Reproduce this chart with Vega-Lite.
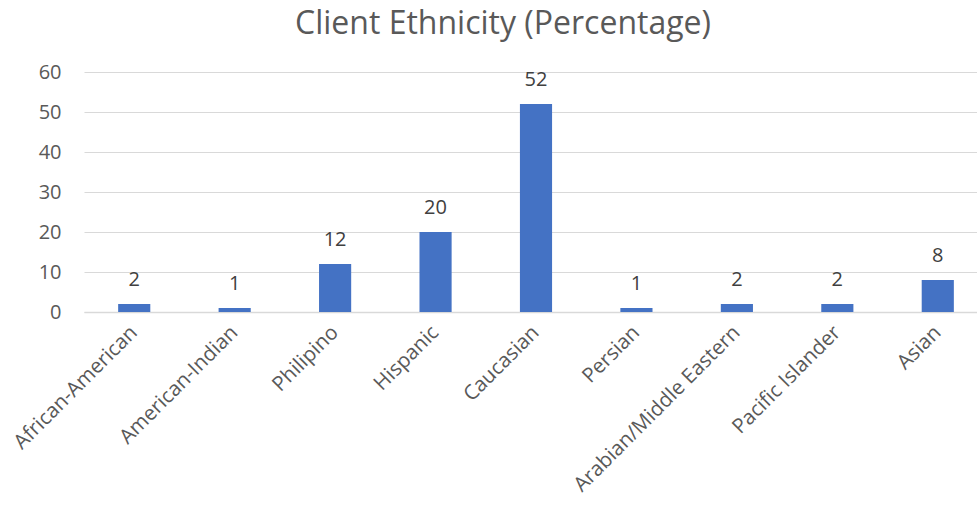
{
  "$schema": "https://vega.github.io/schema/vega-lite/v6.json",
  "autosize": "none",
  "width": 904,
  "height": 240,
  "padding": {"left": 84, "top": 72, "right": 0, "bottom": 202},
  "background": "white",
  "title": {
    "text": "Client Ethnicity (Percentage)",
    "font": "Open Sans",
    "fontSize": 32,
    "fontWeight": "normal",
    "color": "#595959",
    "anchor": "middle",
    "dx": -33,
    "offset": 21
  },
  "data": {
    "values": [
      {"ethnicity": "African-American", "pct": 2},
      {"ethnicity": "American-Indian", "pct": 1},
      {"ethnicity": "Philipino", "pct": 12},
      {"ethnicity": "Hispanic", "pct": 20},
      {"ethnicity": "Caucasian", "pct": 52},
      {"ethnicity": "Persian", "pct": 1},
      {"ethnicity": "Arabian/Middle Eastern", "pct": 2},
      {"ethnicity": "Pacific Islander", "pct": 2},
      {"ethnicity": "Asian", "pct": 8}
    ]
  },
  "encoding": {
    "x": {
      "field": "ethnicity",
      "type": "nominal",
      "sort": null,
      "scale": {"paddingInner": 0.68, "paddingOuter": 0.34},
      "axis": {
        "title": null,
        "labelAngle": -45,
        "labelAlign": "right",
        "labelBaseline": "middle",
        "labelFont": "Open Sans",
        "labelFontSize": 20.5,
        "labelColor": "#595959",
        "labelPadding": 17,
        "labelLimit": 400,
        "ticks": false,
        "domainColor": "#d9d9d9",
        "domainWidth": 1.5,
        "grid": false,
        "labelOverlap": false
      }
    },
    "y": {
      "field": "pct",
      "type": "quantitative",
      "scale": {"domain": [0, 60]},
      "axis": {
        "title": null,
        "values": [0, 10, 20, 30, 40, 50, 60],
        "labelFont": "Open Sans",
        "labelFontSize": 20,
        "labelColor": "#595959",
        "labelPadding": 23,
        "ticks": false,
        "domain": false,
        "gridColor": "#d9d9d9",
        "gridWidth": 1.2
      }
    }
  },
  "layer": [
    {"mark": {"type": "bar", "color": "#4472C4"}},
    {
      "mark": {
        "type": "text",
        "baseline": "bottom",
        "dy": -14,
        "font": "Open Sans",
        "fontSize": 20,
        "color": "#404040"
      },
      "encoding": {"text": {"field": "pct", "type": "quantitative"}}
    }
  ],
  "config": {"view": {"stroke": null}}
}
